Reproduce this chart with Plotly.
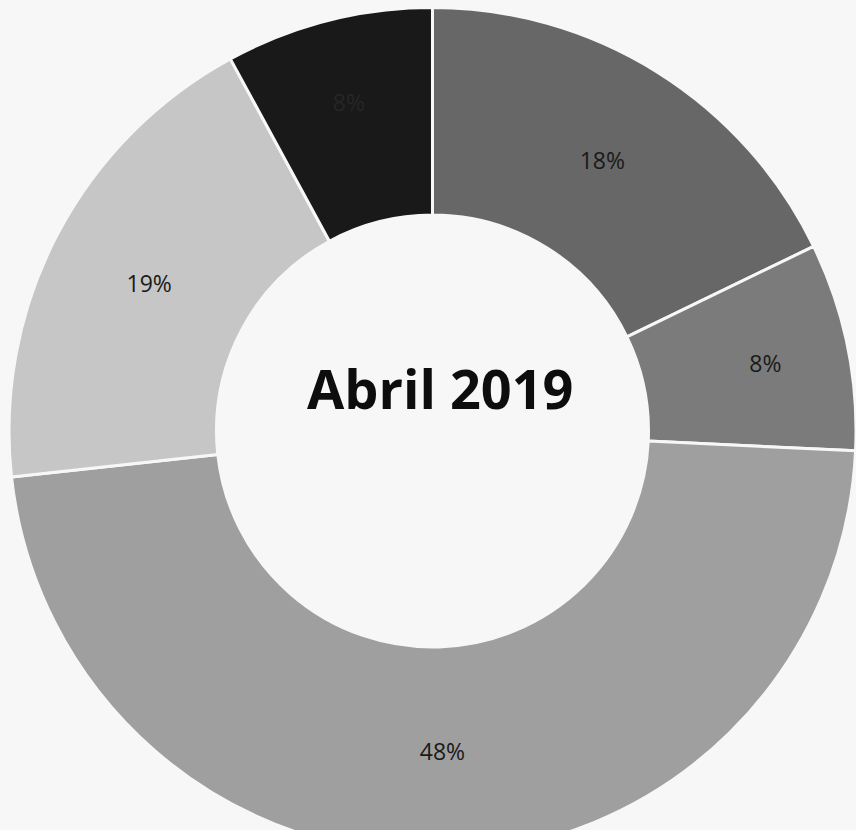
import plotly.graph_objects as go

# Share of each segment, April 2019 (percent)
segments = ["A", "B", "C", "D", "E"]
shares = [18, 8, 48, 19, 8]
slice_colors = ["#676767", "#7b7b7b", "#9f9f9f", "#c6c6c6", "#191919"]
label_colors = ["#1a1a1a", "#1a1a1a", "#1a1a1a", "#1a1a1a", "#262626"]
center_title = "Abril 2019"

W, H = 856, 862
cx, cy, r = 433, 431, 424  # ring centre and outer radius, in px from top-left

fig = go.Figure(
    go.Pie(
        labels=segments,
        values=shares,
        text=[f"{v}%" for v in shares],
        textinfo="text",
        textposition="inside",
        insidetextorientation="horizontal",
        insidetextfont=dict(family="Open Sans, Arial, sans-serif", size=23, color=label_colors),
        hole=0.51,
        sort=False,
        direction="clockwise",
        rotation=0,
        marker=dict(colors=slice_colors, line=dict(color="#f7f7f7", width=3)),
        domain=dict(
            x=[(cx - r) / W, min(1, (cx + r) / W)],
            y=[(H - cy - r) / H, (H - cy + r) / H],
        ),
        showlegend=False,
        hoverinfo="skip",
    )
)

fig.add_annotation(
    text=f"<b>{center_title}</b>",
    x=440 / W,
    y=1 - 388 / H,
    xref="paper",
    yref="paper",
    showarrow=False,
    font=dict(family="Open Sans, Arial, sans-serif", size=54, color="#0d0d0d"),
)

fig.update_layout(
    width=W,
    height=H,
    margin=dict(l=0, r=0, t=0, b=0),
    paper_bgcolor="#f7f7f7",
    plot_bgcolor="#f7f7f7",
)

fig.write_html(
    "out.html",
    post_script="document.documentElement.style.overflow='hidden';document.body.style.overflow='hidden';document.body.style.margin='0';",
)
